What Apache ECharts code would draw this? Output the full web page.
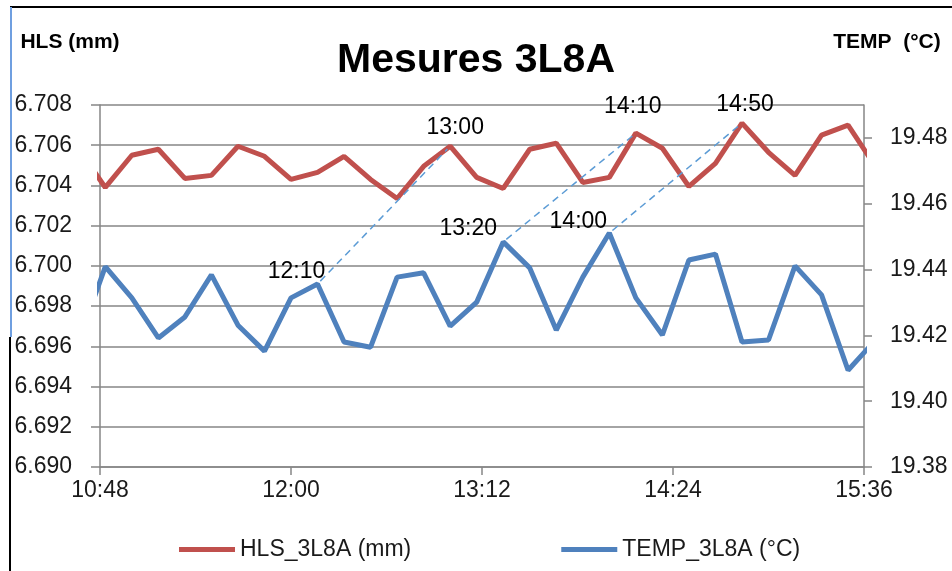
<!DOCTYPE html>
<html>
<head>
<meta charset="utf-8">
<title>Mesures 3L8A</title>
<script src="https://cdn.jsdelivr.net/npm/echarts@6/dist/echarts.min.js"></script>
<style>
html, body { margin: 0; padding: 0; background: #fff; }
#main { width: 952px; height: 571px; }
</style>
</head>
<body>
<div id="main"></div>
<script>
// readings every 10 min (first and last are only partly visible, clipped by the axis)
var times = ['10:40', '10:50', '11:00', '11:10', '11:20', '11:30', '11:40', '11:50', '12:00', '12:10',
             '12:20', '12:30', '12:40', '12:50', '13:00', '13:10', '13:20', '13:30', '13:40', '13:50',
             '14:00', '14:10', '14:20', '14:30', '14:40', '14:50', '15:00', '15:10', '15:20', '15:30', '15:40'];
var hls = [6.7058, 6.7039, 6.7055, 6.7058, 6.70435, 6.7045, 6.70595, 6.70545, 6.7043, 6.70465,
           6.70545, 6.7043, 6.70335, 6.70495, 6.70595, 6.7044, 6.70385, 6.7058, 6.7061, 6.70415,
           6.7044, 6.7066, 6.70585, 6.70395, 6.7051, 6.7071, 6.70565, 6.7045, 6.7065, 6.7070, 6.7050];
var temp = [19.4183, 19.4409, 19.4314, 19.4192, 19.4256, 19.4384, 19.4231, 19.4152, 19.4314, 19.4356,
            19.4180, 19.4164, 19.4377, 19.4390, 19.4228, 19.4301, 19.4484, 19.4405, 19.4216, 19.4377,
            19.4511, 19.4314, 19.4201, 19.4429, 19.4447, 19.4180, 19.4186, 19.4411, 19.4323, 19.4094, 19.4183];

// temperature peak -> matching HLS peak
var lagPairs = [['12:10', '13:00'], ['13:20', '14:10'], ['14:00', '14:50']];

var xRange = ['10:48', '15:36'];
var xStep = 72;
var hlsRange = [6.690, 6.708];
var hlsStep = 0.002;
var tempRange = [19.38, 19.49];
var tempStep = 0.02;

var RED = '#C0504D';
var BLUE = '#4F81BD';
var AXIS = '#868686';
var FONT = 'Liberation Sans';

function toMin(s) {
    var p = s.split(':');
    return parseInt(p[0], 10) * 60 + parseInt(p[1], 10);
}
function fmtTime(m) {
    var h = Math.floor(m / 60), mm = Math.round(m % 60);
    return h + ':' + (mm < 10 ? '0' : '') + mm;
}
function pts(vals) {
    return times.map(function (t, i) { return [toMin(t), vals[i]]; });
}
function mark(vals, t, off) {
    var i = times.indexOf(t);
    return { name: t, coord: [toMin(t), vals[i]], label: { offset: off } };
}

var markBase = {
    symbol: 'circle',
    symbolSize: 1,
    itemStyle: { color: 'rgba(0,0,0,0)' },
    label: { show: true, position: 'inside', color: '#000', fontSize: 23, fontFamily: FONT,
             formatter: function (p) { return p.name; } },
    animation: false
};

var chart = echarts.init(document.getElementById('main'));

var option = {
    animation: false,
    backgroundColor: '#fff',
    textStyle: { fontFamily: FONT },
    title: {
        text: 'Mesures 3L8A',
        left: 'center',
        top: 35,
        textStyle: { fontSize: 41, fontWeight: 'bold', color: '#000', fontFamily: FONT }
    },
    legend: {
        left: 174,
        top: 533,
        icon: 'rect',
        itemWidth: 56,
        itemHeight: 5,
        itemGap: 150,
        textStyle: { fontSize: 23, color: '#1a1a1a' },
        data: ['HLS_3L8A (mm)', 'TEMP_3L8A (°C)']
    },
    grid: { left: 100, right: 88, top: 105, bottom: 104, containLabel: false },
    xAxis: {
        type: 'value',
        min: toMin(xRange[0]),
        max: toMin(xRange[1]),
        interval: xStep,
        axisLine: { show: true, lineStyle: { color: AXIS, width: 1.5 } },
        axisTick: { show: true, length: 8, lineStyle: { color: AXIS, width: 1.5 } },
        axisLabel: { formatter: fmtTime, fontSize: 23, color: '#1a1a1a', margin: 12 },
        splitLine: { show: false }
    },
    yAxis: [{
        type: 'value',
        min: hlsRange[0],
        max: hlsRange[1],
        interval: hlsStep,
        name: 'HLS (mm)',
        nameLocation: 'end',
        nameGap: 52,
        nameTextStyle: { fontSize: 21, fontWeight: 'bold', color: '#000', align: 'center', padding: [0, 60, 0, 0] },
        axisLine: { show: true, lineStyle: { color: AXIS, width: 1.5 } },
        axisTick: { show: true, length: 9, lineStyle: { color: AXIS, width: 1.5 } },
        axisLabel: { formatter: function (v) { return v.toFixed(3); }, fontSize: 23, color: '#1a1a1a', margin: 28 },
        splitLine: { show: true, lineStyle: { color: AXIS, width: 1.5 } }
    }, {
        type: 'value',
        position: 'right',
        min: tempRange[0],
        max: tempRange[1],
        interval: tempStep,
        name: 'TEMP  (°C)',
        nameLocation: 'end',
        nameGap: 52,
        nameTextStyle: { fontSize: 21, fontWeight: 'bold', color: '#000', align: 'center', padding: [0, 0, 0, 46] },
        axisLine: { show: true, lineStyle: { color: AXIS, width: 1.5 } },
        axisTick: { show: true, length: 8, lineStyle: { color: AXIS, width: 1.5 } },
        axisLabel: { formatter: function (v) { return v.toFixed(2); }, fontSize: 23, color: '#1a1a1a',
                     margin: 26, showMaxLabel: false },
        splitLine: { show: false }
    }],
    series: [{
        name: 'HLS_3L8A (mm)',
        type: 'line',
        yAxisIndex: 0,
        data: pts(hls),
        symbol: 'none',
        clip: true,
        lineStyle: { width: 5, color: RED },
        itemStyle: { color: RED },
        z: 3,
        markPoint: Object.assign({}, markBase, {
            data: [mark(hls, '13:00', [5, -19]), mark(hls, '14:10', [-3, -26]), mark(hls, '14:50', [3, -18])]
        })
    }, {
        name: 'TEMP_3L8A (°C)',
        type: 'line',
        yAxisIndex: 1,
        data: pts(temp),
        symbol: 'none',
        clip: true,
        lineStyle: { width: 5, color: BLUE },
        itemStyle: { color: BLUE },
        z: 3,
        markPoint: Object.assign({}, markBase, {
            data: [mark(temp, '12:10', [-21, -12]), mark(temp, '13:20', [-35, -13]), mark(temp, '14:00', [-31, -11])]
        })
    }]
};

chart.setOption(option);

// dashed lag lines from a temperature point to the HLS point it matches
function drawLags() {
    var frame = [
        { type: 'line', shape: { x1: 10, y1: 7, x2: 952, y2: 7 }, style: { stroke: '#000', lineWidth: 2 } },
        { type: 'line', shape: { x1: 11, y1: 7, x2: 11, y2: 337 }, style: { stroke: '#6f9fe0', lineWidth: 2 } },
        { type: 'line', shape: { x1: 10, y1: 337, x2: 10, y2: 571 }, style: { stroke: '#000', lineWidth: 2 } }
    ];
    var lags = lagPairs.map(function (p) {
        var a = chart.convertToPixel({ seriesIndex: 1 }, [toMin(p[0]), temp[times.indexOf(p[0])]]);
        var b = chart.convertToPixel({ seriesIndex: 0 }, [toMin(p[1]), hls[times.indexOf(p[1])]]);
        var dx = b[0] - a[0], dy = b[1] - a[1], len = Math.sqrt(dx * dx + dy * dy);
        var ux = dx / len * 4, uy = dy / len * 4;
        return {
            type: 'line',
            shape: { x1: a[0] + ux, y1: a[1] + uy, x2: b[0] - ux, y2: b[1] - uy },
            style: { stroke: '#5B9BD5', lineWidth: 1.5, lineDash: [7, 5] },
            z: 10
        };
    });
    chart.setOption({ graphic: frame.concat(lags) });
}
drawLags();
</script>
</body>
</html>
